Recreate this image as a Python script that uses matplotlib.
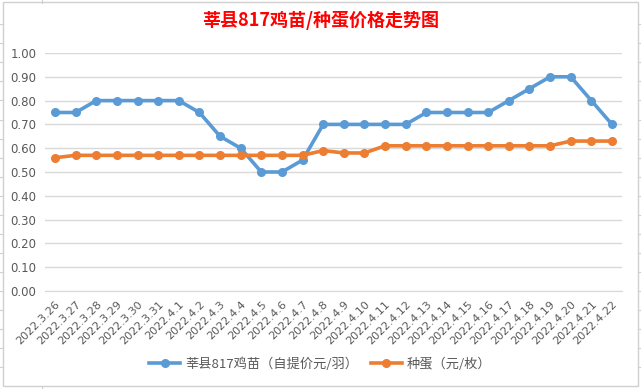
import matplotlib.pyplot as plt
from matplotlib.patches import Rectangle
from matplotlib.lines import Line2D

plt.rcParams['font.family'] = ['Noto Sans CJK SC', 'DejaVu Sans']

dates = ['2022.3.26', '2022.3.27', '2022.3.28', '2022.3.29', '2022.3.30', '2022.3.31',
         '2022.4.1', '2022.4.2', '2022.4.3', '2022.4.4', '2022.4.5', '2022.4.6', '2022.4.7',
         '2022.4.8', '2022.4.9', '2022.4.10', '2022.4.11', '2022.4.12', '2022.4.13',
         '2022.4.14', '2022.4.15', '2022.4.16', '2022.4.17', '2022.4.18', '2022.4.19',
         '2022.4.20', '2022.4.21', '2022.4.22']
chick = [0.75, 0.75, 0.80, 0.80, 0.80, 0.80, 0.80, 0.75, 0.65, 0.60, 0.50, 0.50, 0.55,
         0.70, 0.70, 0.70, 0.70, 0.70, 0.75, 0.75, 0.75, 0.75, 0.80, 0.85, 0.90, 0.90,
         0.80, 0.70]
egg = [0.56, 0.57, 0.57, 0.57, 0.57, 0.57, 0.57, 0.57, 0.57, 0.57, 0.57, 0.57, 0.57,
       0.59, 0.58, 0.58, 0.61, 0.61, 0.61, 0.61, 0.61, 0.61, 0.61, 0.61, 0.61, 0.63,
       0.63, 0.63]
yticks = [i / 10 for i in range(11)]

W, H = 641, 389
fig = plt.figure(figsize=(W / 100, H / 100), dpi=100)
fig.patch.set_facecolor('white')

# chart frame and spreadsheet cell marks outside
fig.patches.append(Rectangle((3 / W, 3 / H), 635 / W, 384 / H, transform=fig.transFigure,
                             fill=False, edgecolor='#D0D0D0', linewidth=1))
for yy in [24, 43, 62, 81, 100, 120, 139, 158, 177, 196, 215, 234, 253, 272, 291, 310, 329, 348, 367]:
    fig.add_artist(Line2D([0, 3 / W], [1 - yy / H] * 2, color='#D0D0D0', lw=0.8))
    fig.add_artist(Line2D([638 / W, 1], [1 - yy / H] * 2, color='#D0D0D0', lw=0.8))
fig.add_artist(Line2D([42 / W] * 2, [1 - 3 / H, 1], color='#D0D0D0', lw=0.8))
fig.add_artist(Line2D([42 / W] * 2, [0, 2 / H], color='#D0D0D0', lw=0.8))

ax = fig.add_axes([44.7 / W, 1 - 291 / H, 577.6 / W, 238 / H])
x = list(range(len(dates)))
ax.plot(x, chick, color='#5B9BD5', lw=2.6, marker='o', markersize=5.5, label='莘县817鸡苗（自提价元/羽）')
ax.plot(x, egg, color='#ED7D31', lw=2.6, marker='o', markersize=5.5, label='种蛋（元/枚）')

ax.set_xlim(-0.5, len(dates) - 0.5)
ax.set_ylim(0, 1.0)
ax.set_yticks(yticks)
ax.set_yticklabels([f'{v:.2f}' for v in yticks], fontsize=8.5, color='#595959', family='DejaVu Sans')
ax.set_xticks(x)
ax.set_xticklabels(dates, rotation=45, ha='right', rotation_mode='anchor',
                   fontsize=8, color='#595959', family='DejaVu Sans')
ax.tick_params(length=0, pad=6)
ax.grid(axis='y', color='#D9D9D9', lw=1)
ax.set_axisbelow(True)
for s in ['top', 'right', 'left']:
    ax.spines[s].set_visible(False)
ax.spines['bottom'].set_color('#D9D9D9')

fig.text(0.5, 1 - 20 / H, '莘县817鸡苗/种蛋价格走势图', ha='center', va='center',
         color='#FF0000', fontsize=13, fontweight='bold')

fig.legend(loc='center', bbox_to_anchor=(0.5, 1 - 364 / H), ncol=2, frameon=False,
           fontsize=9.5, labelcolor='#595959', handlelength=2.3, handletextpad=0.4,
           columnspacing=1.0)

fig.savefig('out.png', dpi=100)
